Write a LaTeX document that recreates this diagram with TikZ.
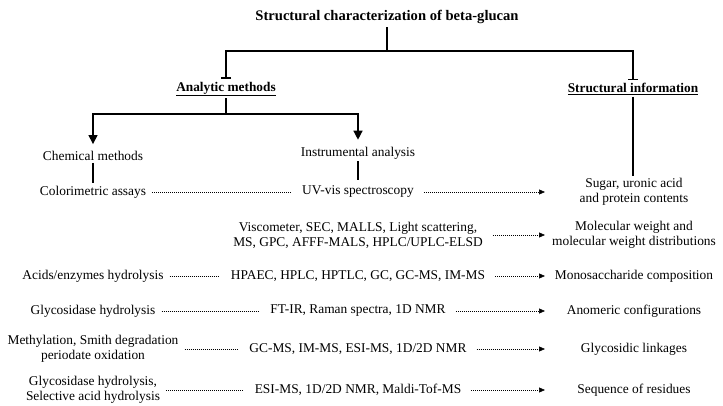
\documentclass[tikz,border=0pt]{standalone}
\usepackage{fontspec}
\setmainfont{Liberation Serif}
\usetikzlibrary{arrows.meta,positioning}

\begin{document}
\begin{tikzpicture}[x=1pt, y=-1pt,
        txt/.style={font=\fontsize{13.4}{15}\selectfont, align=center, inner sep=2pt},
        head/.style={font=\fontsize{13.3}{15}\selectfont\bfseries, inner sep=2pt},
        stem/.style={line width=1.3pt},
        tee/.style={stem, -{Bar[width=10pt, line width=1.3pt]}, shorten >=1pt},
        down/.style={stem, -{Triangle[length=9pt, width=9pt]}, shorten >=5pt},
        fine/.style={line width=0.6pt, dash pattern=on 1pt off 1pt},
        dots/.style={fine, shorten <=4pt, shorten >=9pt},
        dotarrow/.style={fine, -{Triangle[length=6pt, width=5pt]}, shorten <=8pt}]
    \useasboundingbox (0,0) rectangle (723,406);
    % headings
    \node[font=\fontsize{14.6}{17}\selectfont\bfseries] (title) at (387,17) {Structural characterization of beta-glucan};
    \node[head] (analytic) at (226,89) {\underline{Analytic methods}};
    \node[head] (structinfo) at (633,89) {\underline{Structural information}};
    \node[txt] (chem) at (93,156) {Chemical methods};
    \node[txt] (instr) at (358,153) {Instrumental analysis};
    % rows
    \node[txt] (color) at (93,192) {Colorimetric assays};
    \node[txt, right of=color, node distance=265pt] (uv) {UV-vis spectroscopy};
    \node[txt, right of=uv, node distance=276pt] (sugar) {Sugar, uronic acid\\and protein contents};
    \node[txt] (visco) at (358,235) {Viscometer, SEC, MALLS, Light scattering,\\MS, GPC, AFFF-MALS, HPLC/UPLC-ELSD};
    \node[txt, right of=visco, node distance=276pt] (molweight) {Molecular weight and\\molecular weight distributions};
    \node[txt] (acids) at (93,276) {Acids/enzymes hydrolysis};
    \node[txt, right of=acids, node distance=265pt] (hpaec) {HPAEC, HPLC, HPTLC, GC, GC-MS, IM-MS};
    \node[txt, right of=hpaec, node distance=276pt] (mono) {Monosaccharide composition};
    \node[txt] (glyco) at (93,311) {Glycosidase hydrolysis};
    \node[txt, right of=glyco, node distance=265pt] (ftir) {FT-IR, Raman spectra, 1D NMR};
    \node[txt, right of=ftir, node distance=276pt] (anomeric) {Anomeric configurations};
    \node[txt] (methyl) at (93,349) {Methylation, Smith degradation\\periodate oxidation};
    \node[txt, right of=methyl, node distance=265pt] (gcms) {GC-MS, IM-MS, ESI-MS, 1D/2D NMR};
    \node[txt, right of=gcms, node distance=276pt] (linkage) {Glycosidic linkages};
    \node[txt] (selective) at (93,390) {Glycosidase hydrolysis,\\Selective acid hydrolysis};
    \node[txt, right of=selective, node distance=265pt] (esims) {ESI-MS, 1D/2D NMR, Maldi-Tof-MS};
    \node[txt, right of=esims, node distance=276pt] (sequence) {Sequence of residues};
    \coordinate (fork) at (387,51);
    \coordinate (afork) at (226,114);
    \coordinate (tip) at (545,0);
    % tree
    \draw[stem] (title) -- (fork);
    \draw[tee] (fork) -| (analytic);
    \draw[tee] (fork) -| (structinfo);
    \draw[stem] (analytic) -- (afork);
    \draw[down] (afork) -| (chem);
    \draw[down] (afork) -| (instr);
    \draw[stem, shorten >=1pt] (chem) -- (color);
    \draw[stem, shorten >=4pt] (instr) -- (uv);
    \draw[stem] (structinfo) -- (structinfo |- sugar.north);
    % dotted links
    \draw[dots] (color) -- (uv);
    \draw[dotarrow] (uv) -- (uv -| tip);
    \draw[dotarrow] (visco) -- (visco -| tip);
    \draw[dots] (acids) -- (hpaec);
    \draw[dotarrow] (hpaec) -- (hpaec -| tip);
    \draw[dots] (glyco) -- (ftir);
    \draw[dotarrow] (ftir) -- (ftir -| tip);
    \draw[dots] (methyl) -- (gcms);
    \draw[dotarrow] (gcms) -- (gcms -| tip);
    \draw[dots] (selective) -- (esims);
    \draw[dotarrow] (esims) -- (esims -| tip);
\end{tikzpicture}
\end{document}
